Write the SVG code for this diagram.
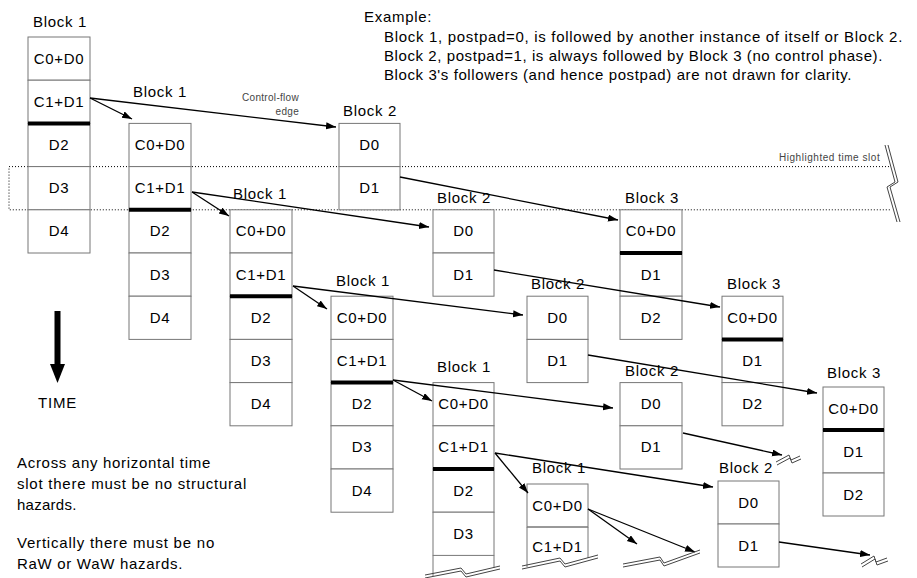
<svg xmlns="http://www.w3.org/2000/svg" width="917" height="578" viewBox="0 0 917 578">
  <style>
    text { font-family: "Liberation Sans", Arial, Helvetica, sans-serif; fill: #000; }
    .lbl { font-size: 15px; letter-spacing: 0.7px; }
    .cell-t { font-size: 15px; letter-spacing: 0.7px; text-anchor: middle; }
    .note { font-size: 15px; letter-spacing: 0.7px; }
    .small { font-size: 10px; fill: #444; letter-spacing: 0.3px; }
    .cell { fill: #fff; stroke: #777; stroke-width: 1; }
    .wall { fill: none; stroke: #777; stroke-width: 1; }
    .sep { stroke: #000; stroke-width: 4; }
    .edge { stroke: #000; stroke-width: 1.3; fill: none; marker-end: url(#head); }
    .brk { fill: none; stroke: #444; stroke-width: 1; }
    .slot { fill: none; stroke: #000; stroke-width: 1; stroke-dasharray: 1 2; }
  </style>
  <defs>
    <marker id="head" markerUnits="userSpaceOnUse" markerWidth="11" markerHeight="8" refX="10" refY="3.5" orient="auto">
      <path d="M0,0 L10,3.5 L0,7 z" fill="#000"/>
    </marker>
  </defs>

  <rect width="917" height="578" fill="#fff"/>

  <!-- explanatory text -->
  <g id="example-text">
    <text class="note" x="364" y="22">Example:</text>
    <text class="note" x="384" y="42" textLength="519">Block 1, postpad=0, is followed by another instance of itself or Block 2.</text>
    <text class="note" x="384" y="61" textLength="499">Block 2, postpad=1, is always followed by Block 3 (no control phase).</text>
    <text class="note" x="384" y="80" textLength="468">Block 3's followers (and hence postpad) are not drawn for clarity.</text>
  </g>
  <g id="hazard-text">
    <text class="note" x="17" y="468" textLength="194">Across any horizontal time</text>
    <text class="note" x="17" y="489" textLength="230">slot there must be no structural</text>
    <text class="note" x="17" y="510" textLength="60">hazards.</text>
    <text class="note" x="17" y="548" textLength="198">Vertically there must be no</text>
    <text class="note" x="17" y="569" textLength="166">RaW or WaW hazards.</text>
  </g>

  <!-- time axis -->
  <g id="time-axis">
    <rect x="54.5" y="311" width="6" height="54" fill="#000"/>
    <path d="M50,364 L65,364 L57.5,383 z" fill="#000"/>
    <text class="note" x="38" y="408" textLength="39">TIME</text>
  </g>

  <!-- highlighted time slot -->
  <g id="time-slot">
    <path class="slot" d="M889,166.6 H9 V209.8 H891"/>
    <text class="small" x="779" y="161" textLength="101">Highlighted time slot</text>
    <path class="brk" d="M885,145 L895,182 L887,187 L897,222"/>
    <path class="brk" d="M888,145 L898,182 L890,187 L900,222"/>
  </g>

  <!-- Block 1, first instance -->
  <g id="b1-a">
    <text class="lbl" x="33" y="27">Block 1</text>
    <rect class="cell" x="28" y="37" width="62" height="43.2"/>
    <rect class="cell" x="28" y="80.2" width="62" height="43.2"/>
    <rect class="cell" x="28" y="123.4" width="62" height="43.2"/>
    <rect class="cell" x="28" y="166.6" width="62" height="43.2"/>
    <rect class="cell" x="28" y="209.8" width="62" height="43.2"/>
    <line class="sep" x1="28" y1="123.4" x2="90" y2="123.4"/>
    <text class="cell-t" x="59" y="63.5">C0+D0</text>
    <text class="cell-t" x="59" y="106.7">C1+D1</text>
    <text class="cell-t" x="59" y="149.9">D2</text>
    <text class="cell-t" x="59" y="193.1">D3</text>
    <text class="cell-t" x="59" y="236.3">D4</text>
  </g>

  <!-- Block 1, second instance -->
  <g id="b1-b">
    <text class="lbl" x="133" y="97">Block 1</text>
    <rect class="cell" x="129" y="123.4" width="62" height="43.2"/>
    <rect class="cell" x="129" y="166.6" width="62" height="43.2"/>
    <rect class="cell" x="129" y="209.8" width="62" height="43.2"/>
    <rect class="cell" x="129" y="253" width="62" height="43.2"/>
    <rect class="cell" x="129" y="296.2" width="62" height="43.2"/>
    <line class="sep" x1="129" y1="209.8" x2="191" y2="209.8"/>
    <text class="cell-t" x="160" y="149.9">C0+D0</text>
    <text class="cell-t" x="160" y="193.1">C1+D1</text>
    <text class="cell-t" x="160" y="236.3">D2</text>
    <text class="cell-t" x="160" y="279.5">D3</text>
    <text class="cell-t" x="160" y="322.7">D4</text>
  </g>

  <!-- Block 1, third instance -->
  <g id="b1-c">
    <text class="lbl" x="233" y="198.5">Block 1</text>
    <rect class="cell" x="230" y="209.8" width="62" height="43.2"/>
    <rect class="cell" x="230" y="253" width="62" height="43.2"/>
    <rect class="cell" x="230" y="296.2" width="62" height="43.2"/>
    <rect class="cell" x="230" y="339.4" width="62" height="43.2"/>
    <rect class="cell" x="230" y="382.6" width="62" height="43.2"/>
    <line class="sep" x1="230" y1="296.2" x2="292" y2="296.2"/>
    <text class="cell-t" x="261" y="236.3">C0+D0</text>
    <text class="cell-t" x="261" y="279.5">C1+D1</text>
    <text class="cell-t" x="261" y="322.7">D2</text>
    <text class="cell-t" x="261" y="365.9">D3</text>
    <text class="cell-t" x="261" y="409.1">D4</text>
  </g>

  <!-- Block 1, fourth instance -->
  <g id="b1-d">
    <text class="lbl" x="336" y="285.5">Block 1</text>
    <rect class="cell" x="331" y="296.2" width="62" height="43.2"/>
    <rect class="cell" x="331" y="339.4" width="62" height="43.2"/>
    <rect class="cell" x="331" y="382.6" width="62" height="43.2"/>
    <rect class="cell" x="331" y="425.8" width="62" height="43.2"/>
    <rect class="cell" x="331" y="469" width="62" height="43.2"/>
    <line class="sep" x1="331" y1="382.6" x2="393" y2="382.6"/>
    <text class="cell-t" x="362" y="322.7">C0+D0</text>
    <text class="cell-t" x="362" y="365.9">C1+D1</text>
    <text class="cell-t" x="362" y="409.1">D2</text>
    <text class="cell-t" x="362" y="452.3">D3</text>
    <text class="cell-t" x="362" y="495.5">D4</text>
  </g>

  <!-- Block 1, fifth instance (cut off at the bottom) -->
  <g id="b1-e">
    <text class="lbl" x="437" y="371.5">Block 1</text>
    <rect class="cell" x="433" y="382.6" width="61" height="43.2"/>
    <rect class="cell" x="433" y="425.8" width="61" height="43.2"/>
    <rect class="cell" x="433" y="469" width="61" height="43.2"/>
    <rect class="cell" x="433" y="512.2" width="61" height="43.2"/>
    <path class="wall" d="M433,555.4 V576 M494,555.4 V568"/>
    <line class="sep" x1="433" y1="469" x2="494" y2="469"/>
    <text class="cell-t" x="463.5" y="409.1">C0+D0</text>
    <text class="cell-t" x="463.5" y="452.3">C1+D1</text>
    <text class="cell-t" x="463.5" y="495.5">D2</text>
    <text class="cell-t" x="463.5" y="538.7">D3</text>
    <path class="brk" d="M425,578 L461,571 L466,577 L500,569"/>
    <path class="brk" d="M425,575 L461,568 L466,574 L500,566"/>
  </g>

  <!-- Block 1, sixth instance (cut off at the bottom) -->
  <g id="b1-f">
    <text class="lbl" x="532" y="472.5">Block 1</text>
    <rect class="cell" x="527" y="484" width="61" height="43"/>
    <path class="wall" d="M527,527 H588 M527,527 V567 M588,527 V558"/>
    <text class="cell-t" x="557.5" y="510.5">C0+D0</text>
    <text class="cell-t" x="557.5" y="552">C1+D1</text>
    <path class="brk" d="M522,569 L560,561 L565,567 L598,558"/>
    <path class="brk" d="M522,566 L560,558 L565,564 L598,555"/>
  </g>

  <!-- Block 2 instances -->
  <g id="b2-a">
    <text class="lbl" x="343" y="115.5">Block 2</text>
    <rect class="cell" x="339" y="123.4" width="61" height="43.2"/>
    <rect class="cell" x="339" y="166.6" width="61" height="43.2"/>
    <text class="cell-t" x="369.5" y="149.9">D0</text>
    <text class="cell-t" x="369.5" y="193.1">D1</text>
  </g>
  <g id="b2-b">
    <text class="lbl" x="437" y="202.5">Block 2</text>
    <rect class="cell" x="433" y="209.8" width="61" height="43.2"/>
    <rect class="cell" x="433" y="253" width="61" height="43.2"/>
    <text class="cell-t" x="463.5" y="236.3">D0</text>
    <text class="cell-t" x="463.5" y="279.5">D1</text>
  </g>
  <g id="b2-c">
    <text class="lbl" x="531" y="288.5">Block 2</text>
    <rect class="cell" x="527" y="296.2" width="61" height="43.2"/>
    <rect class="cell" x="527" y="339.4" width="61" height="43.2"/>
    <text class="cell-t" x="557.5" y="322.7">D0</text>
    <text class="cell-t" x="557.5" y="365.9">D1</text>
  </g>
  <g id="b2-d">
    <text class="lbl" x="625" y="375.5">Block 2</text>
    <rect class="cell" x="620" y="382.6" width="62" height="43.2"/>
    <rect class="cell" x="620" y="425.8" width="62" height="43.2"/>
    <text class="cell-t" x="651" y="409.1">D0</text>
    <text class="cell-t" x="651" y="452.3">D1</text>
  </g>
  <g id="b2-e">
    <text class="lbl" x="719" y="472.5">Block 2</text>
    <rect class="cell" x="718" y="481" width="61" height="43"/>
    <rect class="cell" x="718" y="524" width="61" height="43"/>
    <text class="cell-t" x="748.5" y="507.5">D0</text>
    <text class="cell-t" x="748.5" y="550.5">D1</text>
  </g>

  <!-- Block 3 instances -->
  <g id="b3-a">
    <text class="lbl" x="625" y="202.5">Block 3</text>
    <rect class="cell" x="620" y="209.8" width="62" height="43.2"/>
    <rect class="cell" x="620" y="253" width="62" height="43.2"/>
    <rect class="cell" x="620" y="296.2" width="62" height="43.2"/>
    <line class="sep" x1="620" y1="253" x2="682" y2="253"/>
    <text class="cell-t" x="651" y="236.3">C0+D0</text>
    <text class="cell-t" x="651" y="279.5">D1</text>
    <text class="cell-t" x="651" y="322.7">D2</text>
  </g>
  <g id="b3-b">
    <text class="lbl" x="727" y="288.5">Block 3</text>
    <rect class="cell" x="722" y="296.2" width="61" height="43.2"/>
    <rect class="cell" x="722" y="339.4" width="61" height="43.2"/>
    <rect class="cell" x="722" y="382.6" width="61" height="43.2"/>
    <line class="sep" x1="722" y1="339.4" x2="783" y2="339.4"/>
    <text class="cell-t" x="752.5" y="322.7">C0+D0</text>
    <text class="cell-t" x="752.5" y="365.9">D1</text>
    <text class="cell-t" x="752.5" y="409.1">D2</text>
  </g>
  <g id="b3-c">
    <text class="lbl" x="827" y="377.5">Block 3</text>
    <rect class="cell" x="823" y="387" width="61" height="43"/>
    <rect class="cell" x="823" y="430" width="61" height="43"/>
    <rect class="cell" x="823" y="473" width="61" height="43"/>
    <line class="sep" x1="823" y1="430" x2="884" y2="430"/>
    <text class="cell-t" x="853.5" y="413.5">C0+D0</text>
    <text class="cell-t" x="853.5" y="456.5">D1</text>
    <text class="cell-t" x="853.5" y="499.5">D2</text>
  </g>

  <!-- control-flow edges -->
  <g id="edges">
    <text class="small" x="299" y="101" text-anchor="end">Control-flow</text>
    <text class="small" x="299" y="115" text-anchor="end">edge</text>
    <path class="edge" d="M90,98 L132,119"/>
    <path class="edge" d="M90,98 L336,127"/>
    <path class="edge" d="M192,192 L229,216"/>
    <path class="edge" d="M192,192 L429,227"/>
    <path class="edge" d="M400,177 L618,220"/>
    <path class="edge" d="M293,286 L327,309"/>
    <path class="edge" d="M293,286 L523,315"/>
    <path class="edge" d="M494,270 L720,307"/>
    <path class="edge" d="M393,380 L432,401"/>
    <path class="edge" d="M393,380 L613,408"/>
    <path class="edge" d="M588,355 L817,393"/>
    <path class="edge" d="M495,453 L528,493"/>
    <path class="edge" d="M495,453 L713,487"/>
    <path class="edge" d="M683,433 L782,455"/>
    <path class="edge" d="M588,509 L637,544"/>
    <path class="edge" d="M588,509 L695,552"/>
    <path class="edge" d="M779,542 L870,555"/>
    <!-- breaks where edges leave the drawing -->
    <path class="brk" d="M777,465 L790,458 L792,463 L801,459"/>
    <path class="brk" d="M776,462 L789,455 L791,460 L800,456"/>
    <path class="brk" d="M623,567 L660,560 L664,566 L700,553"/>
    <path class="brk" d="M623,564 L660,557 L664,563 L700,550"/>
    <path class="brk" d="M862,567 L875,559 L877,565 L888,561"/>
    <path class="brk" d="M861,564 L874,556 L876,562 L887,558"/>
  </g>
</svg>
